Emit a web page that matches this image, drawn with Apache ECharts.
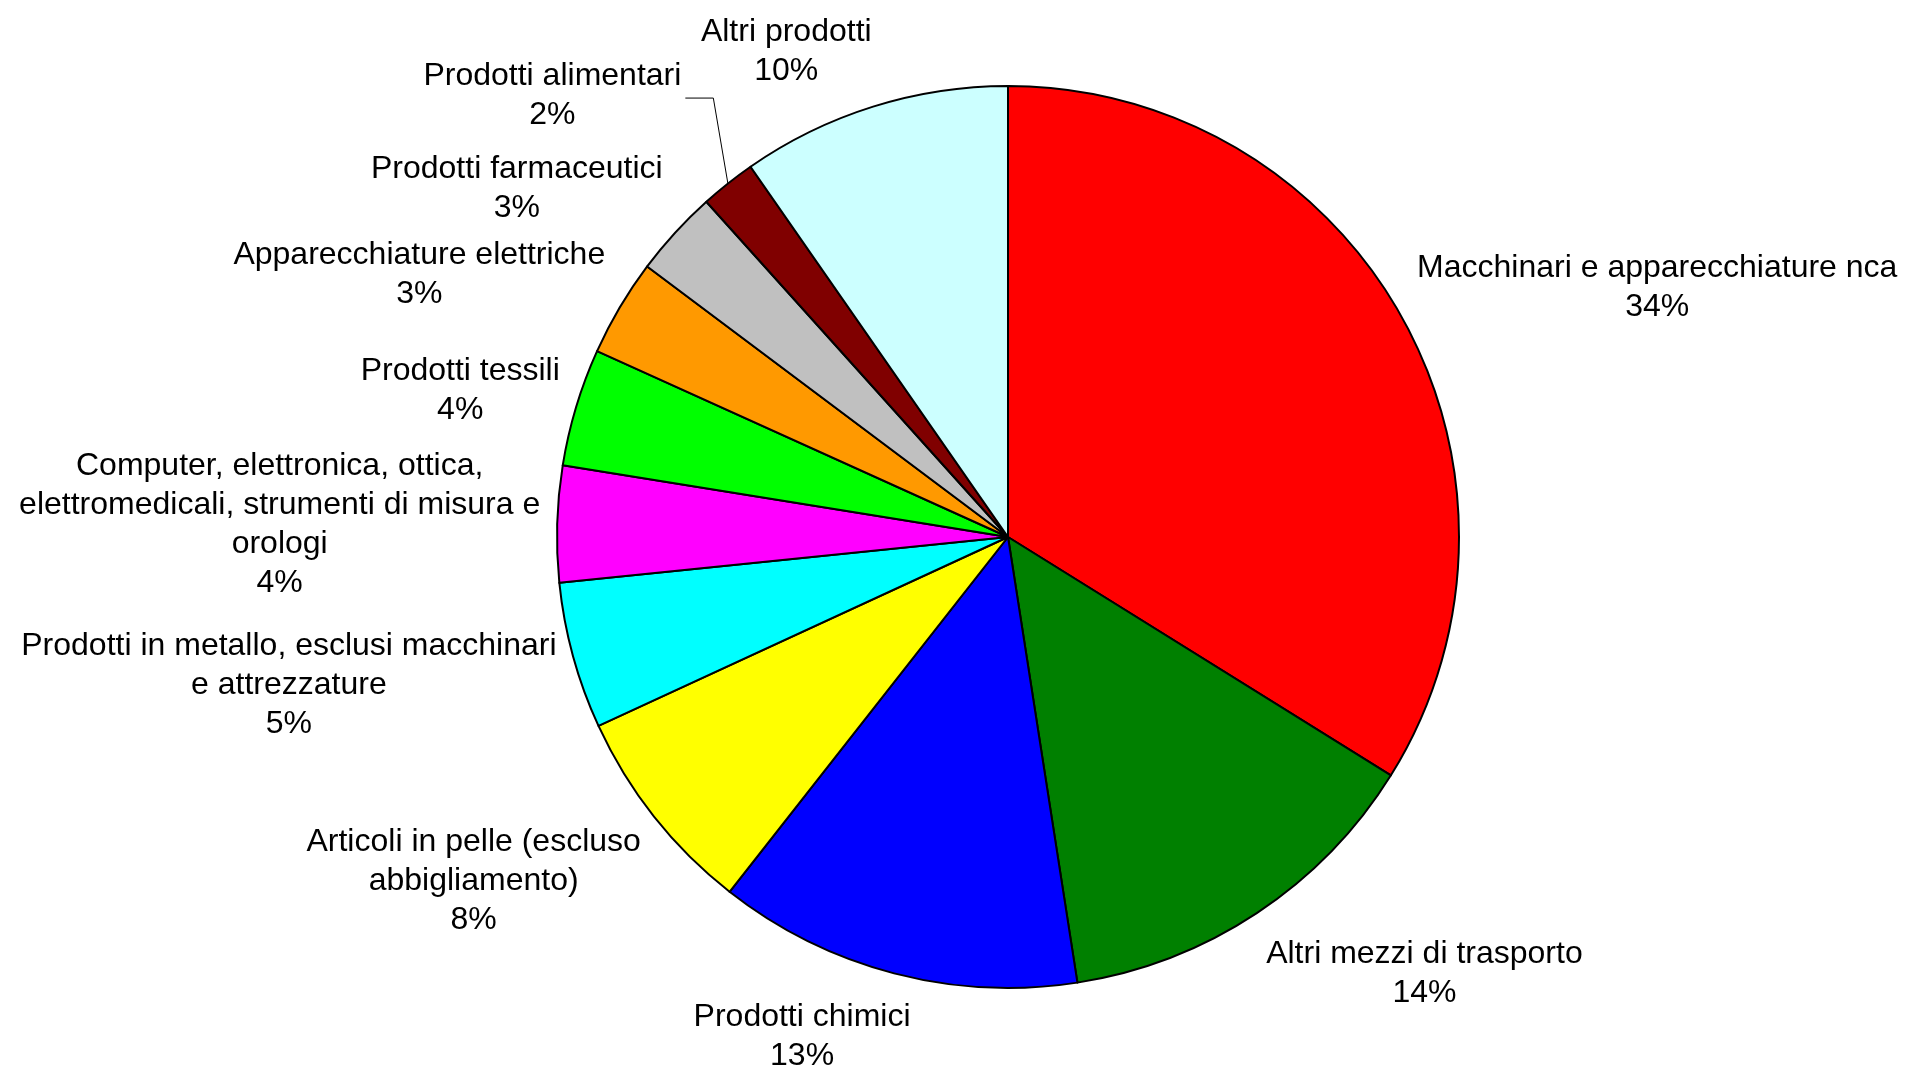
<!DOCTYPE html>
<html>
<head>
<meta charset="utf-8">
<script src="https://cdn.jsdelivr.net/npm/echarts@6/dist/echarts.min.js"></script>
<style>
  html, body { margin: 0; padding: 0; background: #ffffff; }
  #chart { width: 1906px; height: 1065px; }
</style>
</head>
<body>
<div id="chart"></div>
<script>
// ---- data (percent shares) ----
const categories = [
  'Macchinari e apparecchiature nca',
  'Altri mezzi di trasporto',
  'Prodotti chimici',
  'Articoli in pelle (escluso abbigliamento)',
  'Prodotti in metallo, esclusi macchinari e attrezzature',
  'Computer, elettronica, ottica, elettromedicali, strumenti di misura e orologi',
  'Prodotti tessili',
  'Apparecchiature elettriche',
  'Prodotti farmaceutici',
  'Prodotti alimentari',
  'Altri prodotti'
];
const values = [33.86, 13.68, 13.05, 7.53, 5.26, 4.16, 4.22, 3.48, 3.10, 1.99, 9.67];

// ---- styles ----
const palette = ['#FF0000', '#008000', '#0000FF', '#FFFF00', '#00FFFF', '#FF00FF',
                 '#00FF00', '#FF9900', '#C0C0C0', '#800000', '#CCFFFF'];
const FONT_FAMILY = '"Liberation Sans", Arial, Helvetica, sans-serif';
const FONT_SIZE = 32;
const LINE_HEIGHT = 39;
const WRAP_WIDTH = 545;
const PIE_CENTER = [1008, 537];
const PIE_RADIUS = 451;
const LABEL_GAP = 17;
const leaderIndex = categories.indexOf('Prodotti alimentari');
const leaderNudge = [-36, -36];
const leaderRun = 28;

// word-wrap a label the way the reference does
const measureCtx = document.createElement('canvas').getContext('2d');
measureCtx.font = FONT_SIZE + 'px ' + FONT_FAMILY;
function wrap(text) {
  const words = text.split(' ');
  const lines = [];
  let cur = '';
  words.forEach(function (w) {
    const test = cur ? cur + ' ' + w : w;
    if (cur && measureCtx.measureText(test).width > WRAP_WIDTH) {
      lines.push(cur);
      cur = w;
    } else {
      cur = test;
    }
  });
  if (cur) lines.push(cur);
  return lines.join('\n');
}

function clamp(v) { return Math.max(-1, Math.min(1, v)); }

const chart = echarts.init(document.getElementById('chart'), null, { renderer: 'canvas' });

function sectorGeom(idx) {
  let lay = null;
  try { lay = chart.getModel().getSeriesByIndex(0).getData().getItemLayout(idx); } catch (e) { lay = null; }
  if (lay && lay.r != null) {
    const mid = (lay.startAngle + lay.endAngle) / 2;
    return { cx: lay.cx, cy: lay.cy, r: lay.r, dx: Math.cos(mid), dy: Math.sin(mid) };
  }
  // fallback: same geometry from the values
  const total = values.reduce(function (a, b) { return a + b; }, 0);
  let before = 0;
  for (let i = 0; i < idx; i++) before += values[i];
  const mid = -Math.PI / 2 + (before + values[idx] / 2) / total * Math.PI * 2;
  return { cx: PIE_CENTER[0], cy: PIE_CENTER[1], r: PIE_RADIUS, dx: Math.cos(mid), dy: Math.sin(mid) };
}

const seriesData = categories.map(function (name, i) {
  const item = { name: name, value: values[i], itemStyle: { color: palette[i] } };
  if (i === leaderIndex) {
    item.labelLine = { show: true, length: 5, length2: 5, smooth: false,
                       lineStyle: { color: '#000000', width: 1 } };
  }
  return item;
});

chart.setOption({
  backgroundColor: '#ffffff',
  animation: false,
  series: [{
    type: 'pie',
    center: PIE_CENTER,
    radius: PIE_RADIUS,
    startAngle: 90,
    clockwise: true,
    avoidLabelOverlap: false,
    silent: true,
    itemStyle: { borderColor: '#000000', borderWidth: 2 },
    emphasis: { disabled: true },
    label: {
      show: true,
      position: 'outside',
      color: '#000000',
      fontFamily: FONT_FAMILY,
      fontSize: FONT_SIZE,
      lineHeight: LINE_HEIGHT,
      formatter: function (p) { return wrap(p.name) + '\n' + Math.round(p.percent) + '%'; }
    },
    labelLine: { show: false },
    labelLayout: function (params) {
      const g = sectorGeom(params.dataIndex);
      const w = params.labelRect.width;
      const h = params.labelRect.height;
      const px = g.cx + (g.r + LABEL_GAP) * g.dx;
      const py = g.cy + (g.r + LABEL_GAP) * g.dy;
      let x = px + w / 2 * clamp(3.2 * g.dx);
      let y = py + h / 2 * clamp(1.3 * g.dy) + 4 * (1 + g.dy);
      const out = { x: x, y: y, align: 'center', verticalAlign: 'middle' };
      if (params.dataIndex === leaderIndex) {
        x += leaderNudge[0];
        y += leaderNudge[1];
        out.x = x;
        out.y = y;
        const sx = x + w / 2 + 4;
        const sy = y + 2;
        out.labelLinePoints = [[g.cx + g.r * g.dx, g.cy + g.r * g.dy], [sx + leaderRun, sy], [sx, sy]];
      }
      return out;
    },
    data: seriesData
  }]
});
</script>
</body>
</html>
